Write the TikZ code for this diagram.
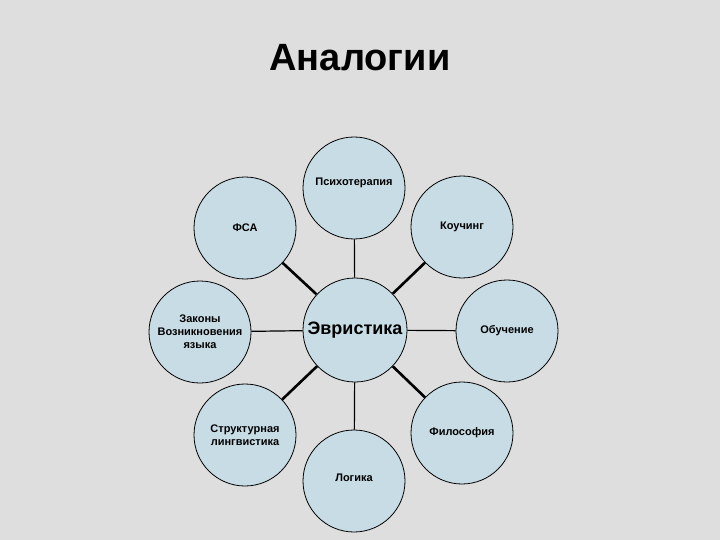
\documentclass[tikz,border=0pt]{standalone}
\usepackage{fontspec}
\setmainfont{Liberation Sans}
\begin{document}
\begin{tikzpicture}[x=1pt,y=-1pt,
  circ/.style={circle,draw=black,line width=0.8pt,fill=cyan!10!teal!25!white,minimum size=102pt,inner sep=0pt,align=center,font=\bfseries\fontsize{11}{13}\selectfont},
  thin/.style={line width=1.2pt},
  thick/.style={line width=2.6pt}]
\fill[black!13] (0,0) rectangle (720,540);
\useasboundingbox (0,0) rectangle (720,540);
\node[font=\bfseries\fontsize{38}{40}\selectfont] (title) at (360,58) {Аналогии};
\node[circ,minimum size=104pt,font=\bfseries\fontsize{18}{20}\selectfont] (c) at (355,330) {Эвристика};
\node[circ] (p) at (354,188) {\raisebox{12pt}{Психотерапия}};
\node[circ] (f) at (245,228) {ФСА};
\node[circ] (k) at (462,227) {Коучинг};
\node[circ] (z) at (200,332) {Законы\\Возникновения\\языка};
\node[circ] (o) at (507,331) {Обучение};
\node[circ] (s) at (245,435) {Структурная\\лингвистика};
\node[circ] (ph) at (462,433) {Философия};
\node[circ] (l) at (354,481) {\raisebox{6pt}{Логика}};
\draw[thin] (c) -- (p);
\draw[thin] (c) -- (z);
\draw[thin] (c) -- (o);
\draw[thin] (c) -- (l);
\draw[thick] (c) -- (f);
\draw[thick] (c) -- (k);
\draw[thick] (c) -- (s);
\draw[thick] (c) -- (ph);
\end{tikzpicture}
\end{document}
